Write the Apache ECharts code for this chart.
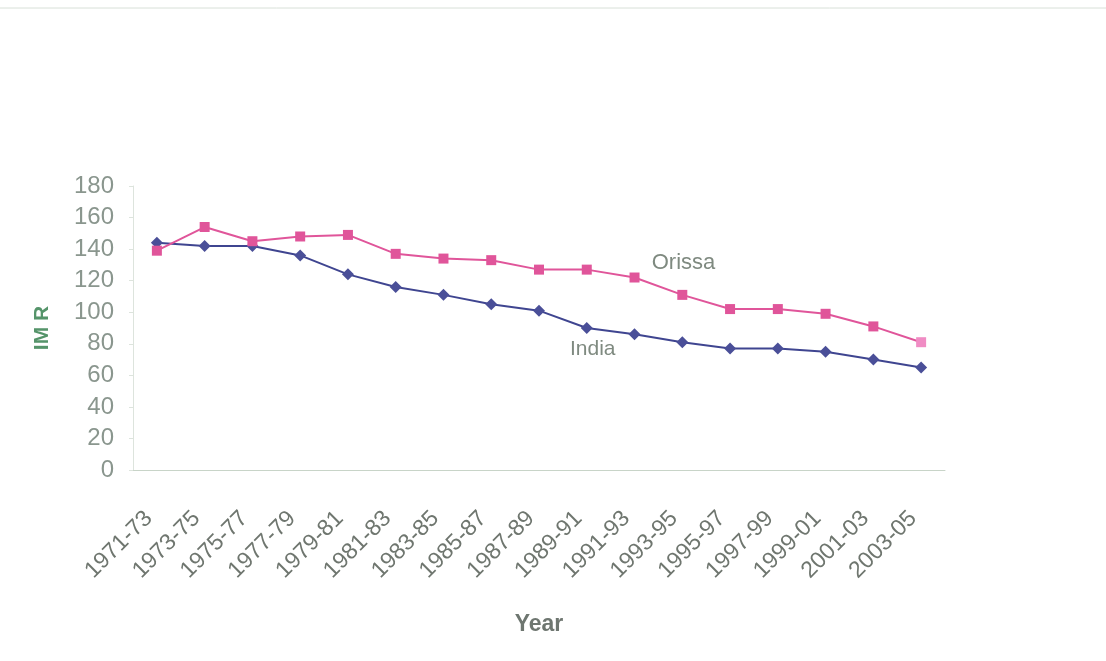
<!DOCTYPE html>
<html>
<head>
<meta charset="utf-8">
<script src="https://cdn.jsdelivr.net/npm/echarts@6/dist/echarts.min.js"></script>
<style>
html,body{margin:0;padding:0;background:#fff;}
#chart{width:1106px;height:661px;}
</style>
</head>
<body>
<div id="chart"></div>
<script>
const categories = ['1971-73','1973-75','1975-77','1977-79','1979-81','1981-83','1983-85','1985-87','1987-89','1989-91','1991-93','1993-95','1995-97','1997-99','1999-01','2001-03','2003-05'];
const india  = [144,142,142,136,124,116,111,105,101,90,86,81,77,77,75,70,65];
const orissa = [139,154,145,148,149,137,134,133,127,127,122,111,102,102,99,91,81];
const yTicks = [0,20,40,60,80,100,120,140,160,180];

const orissaData = orissa.map((v,i)=> i===orissa.length-1 ? {value:v,itemStyle:{color:'#f08cc4'}} : v);

const chart = echarts.init(document.getElementById('chart'));
chart.setOption({
  backgroundColor:'#fff',
  animation:false,
  graphic:[{type:'line',shape:{x1:0,y1:8,x2:1106,y2:8},style:{stroke:'#d8e0d8',lineWidth:1}}],
  grid:{left:133,right:161,top:186,bottom:191},
  xAxis:{
    type:'category',data:categories,boundaryGap:true,
    name:'Year',nameLocation:'middle',nameGap:143,
    nameTextStyle:{fontFamily:'Liberation Sans',fontSize:23,fontWeight:'bold',color:'#6e7670'},
    axisLine:{lineStyle:{color:'#c8d4c8',width:1}},
    axisTick:{interval:2,length:6,lineStyle:{color:'#c8d4c8'}},
    axisLabel:{interval:0,rotate:45,margin:53,verticalAlign:'bottom',fontFamily:'Liberation Sans',fontSize:23,color:'#6f766f'}
  },
  yAxis:{
    type:'value',min:0,max:180,interval:20,
    name:'IM R',nameLocation:'middle',nameGap:80,nameRotate:90,
    nameTextStyle:{fontFamily:'Liberation Sans',fontSize:21,fontWeight:'bold',color:'#55946a'},
    axisLine:{show:true,lineStyle:{color:'#dde4dd'}},
    axisTick:{show:true,length:4,lineStyle:{color:'#dde4dd'}},
    splitLine:{show:false},
    axisLabel:{margin:19,fontFamily:'Liberation Sans',fontSize:24,color:'#8a968e',
      formatter:v=>yTicks.includes(v)?String(v):''}
  },
  series:[
    {name:'India',type:'line',data:india,symbol:'diamond',symbolSize:12,
     lineStyle:{color:'#3f4590',width:2},itemStyle:{color:'#4a4f98'},
     markPoint:{symbol:'circle',symbolSize:0,silent:true,
       data:[{coord:['1989-91',78],label:{show:true,formatter:'India',fontFamily:'Liberation Sans',fontSize:21,color:'#7f8a80',offset:[6,2]}}]}},
    {name:'Orissa',type:'line',data:orissaData,symbol:'rect',symbolSize:10,
     lineStyle:{color:'#e0559a',width:2},itemStyle:{color:'#e0559a'},
     markPoint:{symbol:'circle',symbolSize:0,silent:true,
       data:[{coord:['1991-93',132],label:{show:true,formatter:'Orissa',fontFamily:'Liberation Sans',fontSize:22,color:'#7f8a80',offset:[49,1]}}]}}
  ]
});
</script>
</body>
</html>
